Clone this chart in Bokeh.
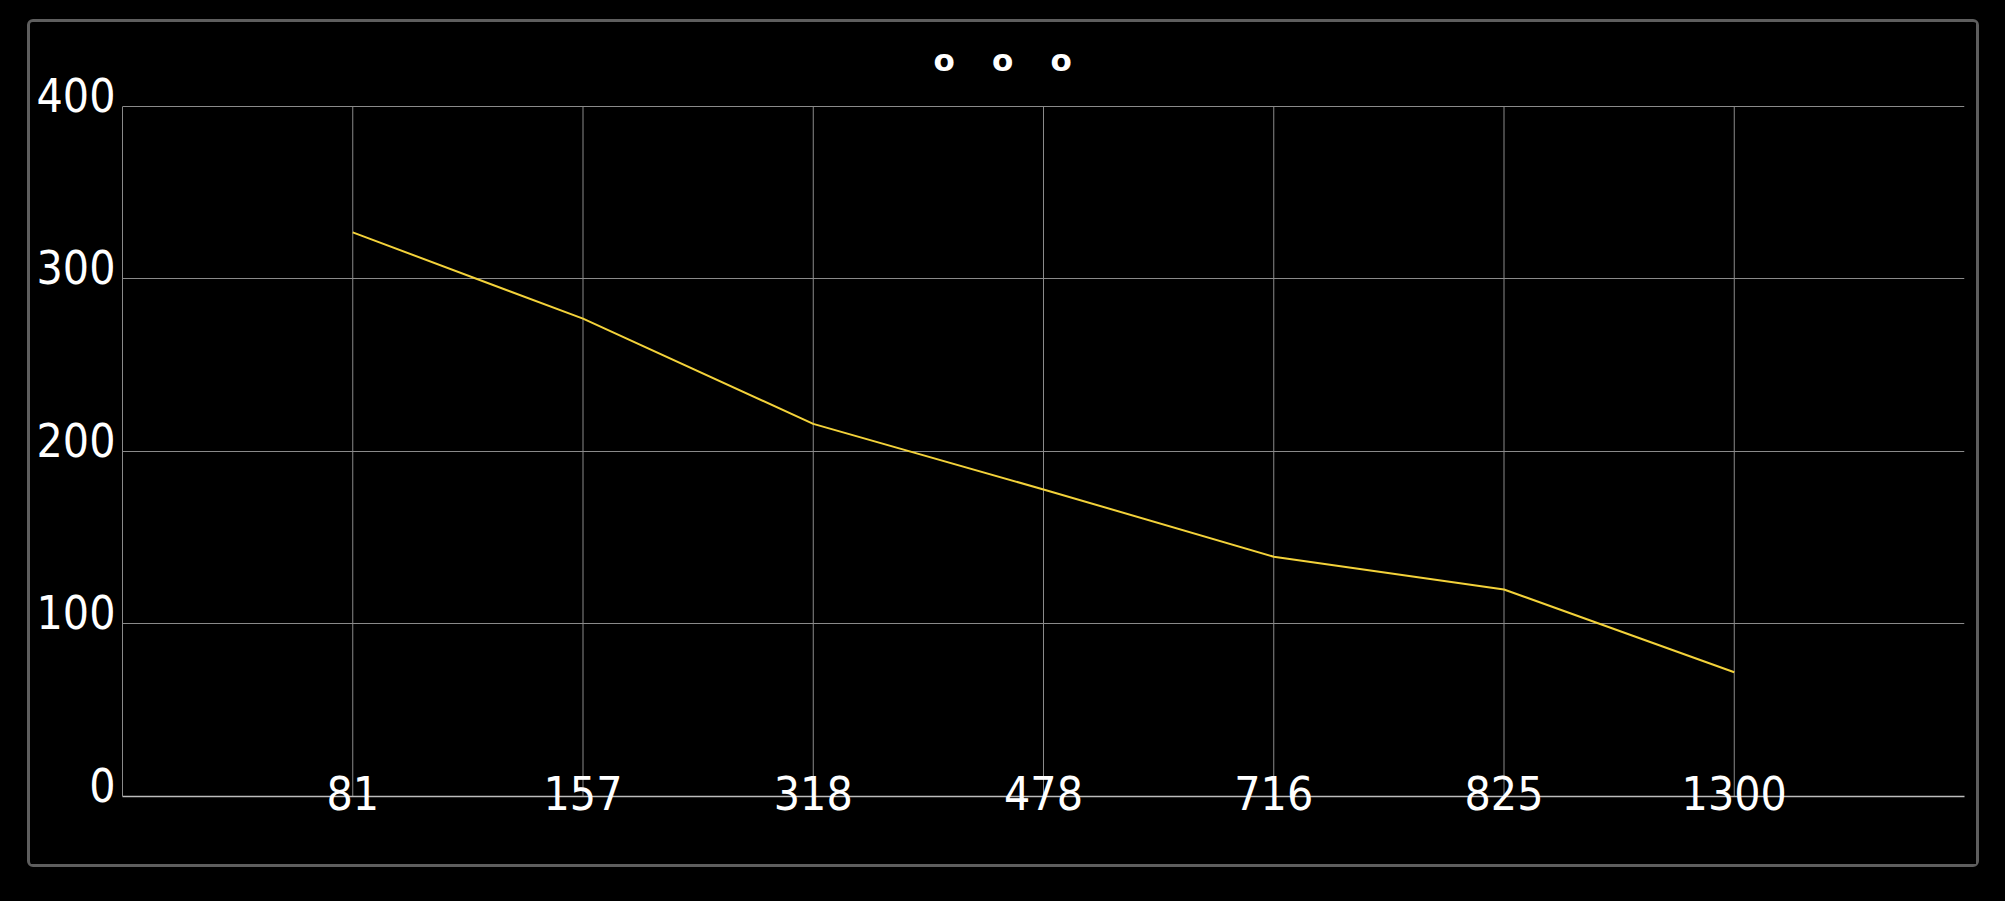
from bokeh.plotting import figure
from bokeh.layouts import column
from bokeh.models import Range1d, FixedTicker, LinearAxis, ColumnDataSource
from bokeh.embed import file_html
from bokeh.resources import INLINE

# ---- data ----
categories = ["81", "157", "318", "478", "716", "825", "1300"]
values = [327, 277, 216, 178, 139, 120, 72]
y_ticks = [0, 100, 200, 300, 400]
title_text = "o\u2003\u2009o\u2003\u2009o"

positions = list(range(len(categories)))
source = ColumnDataSource(data=dict(x=positions, y=values, cat=categories))

LABEL_FONT = "DejaVu Sans Condensed"
LABEL_SIZE = "46px"
GRID_COLOR = "#8a8a8a"
PX_PER_UNIT = 691.7 / (y_ticks[-1] - y_ticks[0])
label_shift = 12 / PX_PER_UNIT  # y labels sit a little above their grid lines

p = figure(
    width=1952, height=848,
    x_range=Range1d(-1, len(categories)),
    y_range=Range1d(y_ticks[0], y_ticks[-1] + label_shift),
    output_backend="svg", toolbar_location=None,
    background_fill_color="black", border_fill_color="black",
    min_border_left=92, min_border_right=18, min_border_top=70, min_border_bottom=74,
    margin=(23, 0, 0, 31),
    styles={"border": "3px solid #5e5e5e", "border-radius": "6px"},
)
p.outline_line_color = None

# title rings
p.title.text = title_text
p.title.align = "left"
p.title.offset = 811
p.title.standoff = 34
p.title.text_color = "white"
p.title.text_font = "DejaVu Sans"
p.title.text_font_style = "bold"
p.title.text_font_size = "31px"

# vertical grid lines at categories, spanning the value range
p.segment(x0=positions, y0=[y_ticks[0]] * len(positions),
          x1=positions, y1=[y_ticks[-1]] * len(positions),
          line_color=GRID_COLOR, line_width=1)
p.xgrid.visible = False

p.line(x="x", y="y", source=source, line_color="#f3d23a", line_width=2)

# x axis
xa = p.xaxis[0]
xa.ticker = FixedTicker(ticks=positions)
xa.major_label_overrides = {i: c for i, c in enumerate(categories)}
xa.axis_line_color = "#bdbdbd"
xa.axis_line_width = 1.5
xa.major_tick_line_color = None
xa.minor_tick_line_color = None
xa.major_tick_out = 0
xa.major_tick_in = 0
xa.major_label_standoff = -21
xa.major_label_text_color = "white"
xa.major_label_text_font = LABEL_FONT
xa.major_label_text_font_size = LABEL_SIZE

# y axis (line only)
ya = p.yaxis[0]
ya.ticker = FixedTicker(ticks=[])
ya.bounds = (y_ticks[0], y_ticks[-1])
ya.axis_line_color = GRID_COLOR
ya.major_tick_line_color = None
ya.minor_tick_line_color = None
ya.major_tick_out = 0
ya.major_tick_in = 0
ya.major_label_standoff = 0

# y labels axis
p.extra_y_ranges = {"labels": Range1d(y_ticks[0] - label_shift, y_ticks[-1])}
yl = LinearAxis(y_range_name="labels", ticker=FixedTicker(ticks=y_ticks))
yl.axis_line_color = None
yl.major_tick_line_color = None
yl.minor_tick_line_color = None
yl.major_tick_out = 0
yl.major_tick_in = 0
yl.major_label_standoff = 7
yl.major_label_text_color = "white"
yl.major_label_text_font = LABEL_FONT
yl.major_label_text_font_size = LABEL_SIZE
p.add_layout(yl, "left")

# horizontal grid
p.ygrid.ticker = FixedTicker(ticks=y_ticks[1:])
p.ygrid.grid_line_color = GRID_COLOR

outer = column(p, width=2009, height=905, margin=(-4, 0, 0, -4),
               styles={"background-color": "black"})

open("out.html", "w").write(file_html(outer, INLINE))
